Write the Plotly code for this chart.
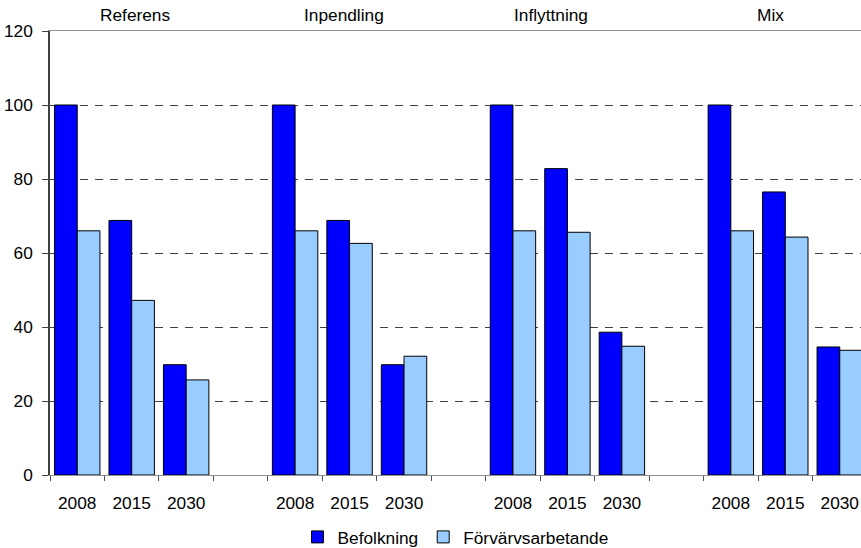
import plotly.graph_objects as go

scenarios = ["Referens", "Inpendling", "Inflyttning", "Mix"]
years = ["2008", "2015", "2030"]
befolkning = [
    [100, 68.8, 29.8],   # Referens
    [100, 68.8, 29.8],   # Inpendling
    [100, 82.8, 38.6],   # Inflyttning
    [100, 76.5, 34.6],   # Mix
]
forvarvsarbetande = [
    [66.0, 47.2, 25.7],
    [66.0, 62.6, 32.1],
    [66.0, 65.6, 34.8],
    [66.0, 64.3, 33.7],
]
y_ticks = [0, 20, 40, 60, 80, 100, 120]

slot = len(years) + 1  # one empty slot between scenarios
xs, labels, bef, fvr = [], [], [], []
for i, sc in enumerate(scenarios):
    for j, yr in enumerate(years):
        xs.append(i * slot + j)
        labels.append(yr)
        bef.append(befolkning[i][j])
        fvr.append(forvarvsarbetande[i][j])

FONT = "Liberation Sans, Arial, sans-serif"
FS = 17.3

fig = go.Figure()
fig.add_trace(go.Bar(x=xs, y=bef, name="Befolkning",
                     marker=dict(color="#0000FF", line=dict(color="#000000", width=1))))
fig.add_trace(go.Bar(x=xs, y=fvr, name="Förvärvsarbetande",
                     marker=dict(color="#99CCFF", line=dict(color="#000000", width=1))))

label_pos = [1.06, 4.9, 8.7, 12.72]
for sc, px in zip(scenarios, label_pos):
    fig.add_annotation(text=sc, x=px, xref="x", y=1.036, yref="paper",
                       showarrow=False, yanchor="middle", xanchor="center",
                       font=dict(size=FS, color="#000000", family=FONT))

fig.update_layout(
    width=861, height=548,
    margin=dict(l=50, r=0, t=31, b=73, autoexpand=False),
    paper_bgcolor="white", plot_bgcolor="white",
    barmode="group", bargap=0.166, bargroupgap=0,
    font=dict(family=FONT, size=FS, color="#000000"),
    showlegend=True,
    legend=dict(orientation="h", x=0.50, xanchor="center", y=-0.14, yanchor="middle",
                font=dict(size=FS, family=FONT), itemwidth=30, tracegroupgap=0),
    xaxis=dict(
        range=[-0.5, 14.39], automargin=False,
        tickmode="array", tickvals=xs, ticktext=labels,
        ticks="outside", ticklen=12, tickcolor="rgba(0,0,0,0)",
        showgrid=False, zeroline=False,
        showline=True, linecolor="#909090", linewidth=1, mirror=True,
        minor=dict(tick0=-0.5, dtick=1, ticks="outside", ticklen=5,
                   tickcolor="#505050", tickwidth=1, showgrid=False),
        tickfont=dict(size=FS, family=FONT, color="#000000"),
    ),
    yaxis=dict(
        range=[0, 120], tickmode="array", tickvals=y_ticks, automargin=False,
        ticks="outside", ticklen=6, tickcolor="#404040", ticklabelstandoff=6,
        showgrid=True, gridcolor="#404040", gridwidth=1, griddash="8px,7px",
        zeroline=False, showline=True, linecolor="#404040", linewidth=1.5,
        tickfont=dict(size=FS, family=FONT, color="#000000"),
    ),
)

# remove the browser's default 8px body margin so the figure sits at the page origin
fig.write_html("out.html", config={"displayModeBar": False},
               post_script="document.body.style.margin='0';")
